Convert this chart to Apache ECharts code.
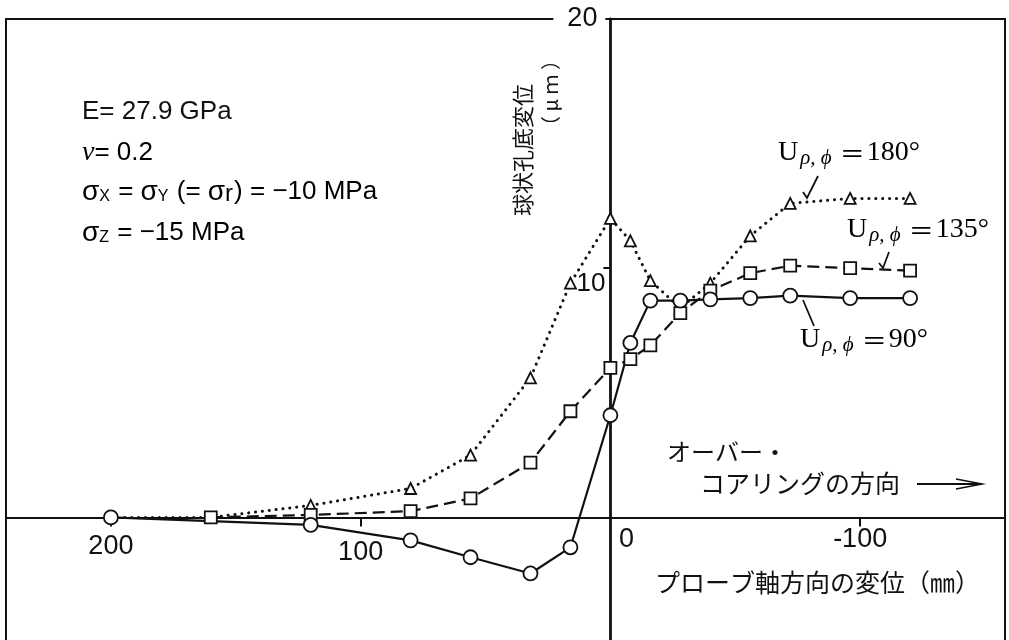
<!DOCTYPE html>
<html>
<head>
<meta charset="utf-8">
<script src="https://cdn.jsdelivr.net/npm/echarts@6/dist/echarts.min.js"></script>
<style>
html,body{margin:0;padding:0;background:#fff;}
#chart{width:1009px;height:640px;}
</style>
</head>
<body>
<div id="chart"></div>
<script>
// probe displacement along axis (mm)
const xPos = [200, 160, 120, 80, 56, 32, 16, 0, -8, -16, -28, -40, -56, -72, -96, -120];
// bottom-hole displacement (µm)
const u90  = [0, null, -0.3, -0.92, -1.6, -2.25, -1.2, 4.1, 7.0, 8.7, 8.7, 8.75, 8.8, 8.9, 8.8, 8.8];
const u135 = [null, 0, 0.1, 0.25, 0.76, 2.2, 4.26, 6.0, 6.35, 6.9, 8.2, 9.1, 9.8, 10.1, 10.0, 9.9];
const u180 = [0, 0, 0.48, 1.16, 2.5, 5.6, 9.4, 12.0, 11.1, 9.5, 8.4, 9.4, 11.3, 12.6, 12.8, 12.8];
const u180MarkerHidden = [true, true, false, false, false, false, false, false, false, false, false, false, false, false, false, false];

const xTickLabels = [200, 100, 0, -100];
const xTicks = [200, 100, -100];
const yTickLabels = [10, 20];
const yTicks = [10];

function pairs(vals, hidden) {
  const out = [];
  vals.forEach((v, i) => {
    if (v === null) return;
    const item = { value: [xPos[i], v] };
    if (hidden && hidden[i]) item.symbol = 'none';
    out.push(item);
  });
  return out;
}

const W = 1009, H = 640;
const G = { left: 6, right: 4, top: 19, bottom: -2 };
const X_MIN = -158, X_MAX = 242, Y_MIN = -5, Y_MAX = 20;
const gw = W - G.left - G.right, gh = H - G.top - G.bottom;
// place axes on the zero lines of each other
const xAxisOffset = -gh * (0 - Y_MIN) / (Y_MAX - Y_MIN);
const yAxisOffset = -gw * (X_MAX - 0) / (X_MAX - X_MIN);

const chart = echarts.init(document.getElementById('chart'));
const INK = '#111';
const sans = 'Liberation Sans';
const jp = 'Noto Sans CJK JP';
const serif = 'Liberation Serif';

const labelRich = {
  u: { fontFamily: serif, fontSize: 28, color: INK },
  s: { fontFamily: serif, fontStyle: 'italic', fontSize: 21, color: INK, padding: [10, 0, 0, 2] },
  e: { fontFamily: jp, fontSize: 25, color: INK, padding: [0, 2, 0, 8] },
  n: { fontFamily: serif, fontSize: 28, color: INK }
};
const paramRich = {
  t: { fontFamily: sans, fontSize: 26, color: INK },
  g: { fontFamily: sans, fontSize: 28, color: INK },
  s: { fontFamily: sans, fontSize: 16, color: INK, padding: [10, 1, 0, 0] },
  r: { fontFamily: sans, fontSize: 24, color: INK, padding: [4, 1, 0, 0] }
};

const option = {
  animation: false,
  backgroundColor: '#fff',
  grid: { left: G.left, right: G.right, top: G.top, bottom: G.bottom, outerBoundsMode: 'none', containLabel: false,
    show: true, borderColor: INK, borderWidth: 2, backgroundColor: 'transparent' },
  xAxis: {
    type: 'value', inverse: true, min: X_MIN, max: X_MAX, z: 1, position: 'bottom', offset: xAxisOffset,
    axisLine: { onZero: false, lineStyle: { color: INK, width: 2 } },
    splitLine: { show: false },
    axisTick: { customValues: xTicks, length: 9, lineStyle: { color: INK, width: 2 } },
    axisLabel: {
      customValues: xTickLabels, margin: 9, color: INK, fontFamily: sans, fontSize: 27, hideOverlap: false,
      formatter: v => v === 0 ? '{z|0}' : (v === 200 ? '{a|200}' : (v === 100 ? '{b|100}' : '{c|-100}')),
      rich: {
        z: { fontFamily: sans, fontSize: 27, color: INK, padding: [0, 0, 0, 32] },
        a: { fontFamily: sans, fontSize: 27, color: INK, padding: [7, 0, 0, 0] },
        b: { fontFamily: sans, fontSize: 27, color: INK, padding: [13, 0, 0, 0] },
        c: { fontFamily: sans, fontSize: 27, color: INK, padding: [0, 0, 0, 0] }
      }
    }
  },
  yAxis: {
    type: 'value', min: Y_MIN, max: Y_MAX, z: 1, position: 'left', offset: yAxisOffset,
    axisLine: { onZero: false, lineStyle: { color: INK, width: 2.8 } },
    splitLine: { show: false },
    axisTick: { customValues: yTicks, length: 7, lineStyle: { color: INK, width: 2 } },
    axisLabel: {
      customValues: yTickLabels, margin: 5, color: INK, fontFamily: sans, fontSize: 27, hideOverlap: false,
      formatter: v => v === 20 ? '{t|20}' : '{d|10}',
      rich: {
        t: { fontFamily: sans, fontSize: 27, color: INK, backgroundColor: '#fff', padding: [3, 8, 3, 14] },
        d: { fontFamily: sans, fontSize: 26, color: INK, padding: [32, 0, 0, 0] }
      }
    }
  },
  series: [
    {
      name: 'U180', type: 'line', data: pairs(u180, u180MarkerHidden),
      symbol: 'triangle', symbolSize: 11,
      lineStyle: { color: INK, width: 3, type: [0.1, 6.8], cap: 'round' },
      itemStyle: { color: '#fff', borderColor: INK, borderWidth: 1.8 }
    },
    {
      name: 'U135', type: 'line', data: pairs(u135),
      symbol: 'rect', symbolSize: 12,
      lineStyle: { color: INK, width: 2.2, type: [12, 6] },
      itemStyle: { color: '#fff', borderColor: INK, borderWidth: 1.8 }
    },
    {
      name: 'U90', type: 'line', data: pairs(u90),
      symbol: 'circle', symbolSize: 14,
      lineStyle: { color: INK, width: 2.2 },
      itemStyle: { color: '#fff', borderColor: INK, borderWidth: 1.8 }
    }
  ],
  graphic: [
    // parameter block
    { type: 'text', x: 82, y: 112, style: { text: 'E= 27.9 GPa', font: '26px "Liberation Sans"', fill: INK, verticalAlign: 'middle' } },
    { type: 'text', x: 82, y: 153, style: { text: '{n|ν}{t|= 0.2}', verticalAlign: 'middle',
      rich: { n: { fontFamily: serif, fontStyle: 'italic', fontSize: 28, color: INK }, t: { fontFamily: sans, fontSize: 26, color: INK } } } },
    { type: 'text', x: 82, y: 192, style: { text: '{g|σ}{s|X}{t| = }{g|σ}{s|Y}{t| (= }{g|σ}{r|r}{t|) = −10 MPa}', verticalAlign: 'middle', rich: paramRich } },
    { type: 'text', x: 82, y: 233, style: { text: '{g|σ}{s|Z}{t| = −15 MPa}', verticalAlign: 'middle', rich: paramRich } },
    // y axis title
    { type: 'text', x: 523, y: 150, rotation: Math.PI / 2, style: { text: '球状孔底変位', font: '22px "Noto Sans CJK JP"', fill: INK, align: 'center', verticalAlign: 'middle' } },
    { type: 'text', x: 550, y: 93, rotation: Math.PI / 2, style: { text: '（ μ ｍ ）', font: '20px "Noto Sans CJK JP"', fill: INK, align: 'center', verticalAlign: 'middle' } },
    // series labels
    { type: 'text', x: 778, y: 153, style: { text: '{u|U}{s|ρ, ϕ}{e|＝}{n|180°}', verticalAlign: 'middle', rich: labelRich } },
    { type: 'text', x: 847, y: 230, style: { text: '{u|U}{s|ρ, ϕ}{e|＝}{n|135°}', verticalAlign: 'middle', rich: labelRich } },
    { type: 'text', x: 800, y: 340, style: { text: '{u|U}{s|ρ, ϕ}{e|＝}{n|90°}', verticalAlign: 'middle', rich: labelRich } },
    // leader lines
    { type: 'polyline', shape: { points: [[818, 176], [807, 198], [803, 192]] }, style: { stroke: INK, lineWidth: 1.8, fill: null } },
    { type: 'polyline', shape: { points: [[889, 252], [883, 268], [879, 263]] }, style: { stroke: INK, lineWidth: 1.8, fill: null } },
    { type: 'line', shape: { x1: 803, y1: 300, x2: 814, y2: 326 }, style: { stroke: INK, lineWidth: 1.8 } },
    // direction note
    { type: 'text', x: 667, y: 452, style: { text: 'オーバー・', font: '24px "Noto Sans CJK JP"', fill: INK, verticalAlign: 'middle' } },
    { type: 'text', x: 700, y: 483, style: { text: 'コアリングの方向', font: '25px "Noto Sans CJK JP"', fill: INK, verticalAlign: 'middle' } },
    { type: 'line', shape: { x1: 917, y1: 484, x2: 982, y2: 484 }, style: { stroke: INK, lineWidth: 1.8 } },
    { type: 'polyline', shape: { points: [[956, 479], [982, 484], [956, 489]] }, style: { stroke: INK, lineWidth: 1.6, fill: null } },
    // x axis title
    { type: 'text', x: 655, y: 582, style: { text: 'プローブ軸方向の変位（㎜）', font: '25px "Noto Sans CJK JP"', fill: INK, verticalAlign: 'middle' } }
  ]
};
chart.setOption(option);
</script>
</body>
</html>
